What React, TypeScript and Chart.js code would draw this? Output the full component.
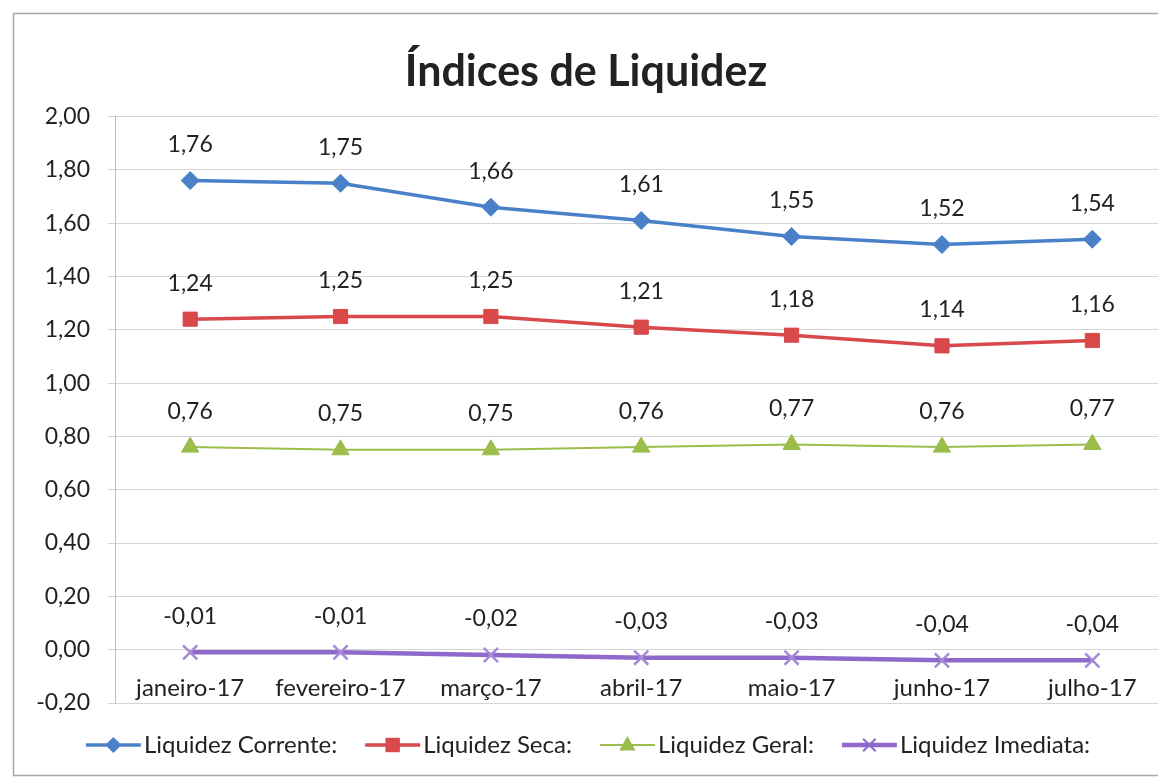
import React, { useEffect, useRef } from "react";
import { Chart, registerables } from "chart.js";

Chart.register(...registerables);

const categories = ["janeiro-17", "fevereiro-17", "março-17", "abril-17", "maio-17", "junho-17", "julho-17"];
const liquidezCorrente = [1.76, 1.75, 1.66, 1.61, 1.55, 1.52, 1.54];
const liquidezSeca = [1.24, 1.25, 1.25, 1.21, 1.18, 1.14, 1.16];
const liquidezGeral = [0.76, 0.75, 0.75, 0.76, 0.77, 0.76, 0.77];
const liquidezImediata = [-0.01, -0.01, -0.02, -0.03, -0.03, -0.04, -0.04];
const seriesNames = ["Liquidez Corrente:", "Liquidez Seca:", "Liquidez Geral:", "Liquidez Imediata:"];
const chartTitle = "Índices de Liquidez";
const yMin = -0.2;
const yMax = 2.0;
const yStep = 0.2;

const FONT = "Lato, 'Open Sans', sans-serif";
const fmt = (v: number) => {
  const r = Math.round(v * 100) / 100;
  const s = (Math.abs(r) < 1e-9 ? 0 : r).toFixed(2);
  return s.split(".").join(",");
};

const colors = ["#4a80c8", "#d9484a", "#9bbd4a", "#8f68cc"];
const styles: any[] = ["rectRot", "rect", "triangle", "crossRot"];
const radii = [9, 10, 10, 10];
const widths = [3.5, 3.5, 2, 4.5];

const borderPlugin = {
  id: "frame",
  beforeDraw(chart: any) {
    const ctx = chart.ctx;
    ctx.save();
    ctx.fillStyle = "#ffffff";
    ctx.fillRect(0, 0, chart.width, chart.height);
    ctx.strokeStyle = "#a8a8a8";
    ctx.lineWidth = 1.5;
    ctx.strokeRect(13.5, 13.5, chart.width, 762);
    ctx.restore();
  },
};

const labelPlugin = {
  id: "valueLabels",
  afterDatasetsDraw(chart: any) {
    const ctx = chart.ctx;
    ctx.save();
    ctx.font = `23px ${FONT}`;
    ctx.fillStyle = "#222";
    ctx.textAlign = "center";
    ctx.textBaseline = "middle";
    chart.data.datasets.forEach((ds: any, i: number) => {
      const meta = chart.getDatasetMeta(i);
      meta.data.forEach((pt: any, j: number) => {
        ctx.fillText(fmt(ds.data[j]), pt.x, pt.y - 36);
      });
    });
    ctx.restore();
  },
};

function drawMarker(ctx: CanvasRenderingContext2D, style: string, x: number, y: number, r: number, color: string) {
  ctx.save();
  ctx.fillStyle = color;
  ctx.strokeStyle = color;
  ctx.lineWidth = 2;
  ctx.beginPath();
  if (style === "rectRot") {
    ctx.moveTo(x, y - r);
    ctx.lineTo(x + r, y);
    ctx.lineTo(x, y + r);
    ctx.lineTo(x - r, y);
    ctx.closePath();
    ctx.fill();
  } else if (style === "rect") {
    ctx.rect(x - r * 0.8, y - r * 0.8, r * 1.6, r * 1.6);
    ctx.fill();
  } else if (style === "triangle") {
    ctx.moveTo(x, y - r);
    ctx.lineTo(x + r * 0.9, y + r * 0.6);
    ctx.lineTo(x - r * 0.9, y + r * 0.6);
    ctx.closePath();
    ctx.fill();
  } else {
    const d = r * 0.7;
    ctx.moveTo(x - d, y - d);
    ctx.lineTo(x + d, y + d);
    ctx.moveTo(x + d, y - d);
    ctx.lineTo(x - d, y + d);
    ctx.stroke();
  }
  ctx.restore();
}

const legendPlugin = {
  id: "customLegend",
  afterDraw(chart: any) {
    const ctx = chart.ctx;
    ctx.save();
    ctx.font = `24px ${FONT}`;
    const lineW = 55;
    const gap = 3;
    const itemGap = 28;
    const textWs = seriesNames.map((n) => ctx.measureText(n).width);
    const total = textWs.reduce((a, b) => a + b, 0) + seriesNames.length * (lineW + gap) + (seriesNames.length - 1) * itemGap;
    let x = 588 - total / 2;
    const y = 745;
    seriesNames.forEach((name, i) => {
      ctx.strokeStyle = colors[i];
      ctx.lineWidth = widths[i];
      ctx.beginPath();
      ctx.moveTo(x, y);
      ctx.lineTo(x + lineW, y);
      ctx.stroke();
      drawMarker(ctx, styles[i], x + lineW / 2, y, radii[i] * 0.9, colors[i]);
      x += lineW + gap;
      ctx.fillStyle = "#222";
      ctx.textAlign = "left";
      ctx.textBaseline = "middle";
      ctx.fillText(name, x, y);
      x += textWs[i] + itemGap;
    });
    ctx.restore();
  },
};

export default function App() {
  const ref = useRef<HTMLCanvasElement | null>(null);
  useEffect(() => {
    if (!ref.current) return;
    const series = [liquidezCorrente, liquidezSeca, liquidezGeral, liquidezImediata];
    const chart = new Chart(ref.current, {
      type: "line",
      data: {
        labels: categories,
        datasets: series.map((d, i) => ({
          label: seriesNames[i],
          data: d,
          borderColor: colors[i],
          backgroundColor: colors[i],
          borderWidth: widths[i],
          pointStyle: styles[i],
          pointRadius: radii[i],
          pointBorderWidth: i === 3 ? 2.5 : 1,
          pointBackgroundColor: colors[i],
          pointBorderColor: i === 3 ? "#a58ad8" : colors[i],
          tension: 0,
          fill: false,
        })),
      },
      options: {
        animation: false,
        responsive: false,
        layout: { padding: { left: 0, right: 8, top: 0, bottom: 80 } },
        plugins: {
          legend: { display: false },
          tooltip: { enabled: false },
          title: {
            display: true,
            text: chartTitle,
            color: "#222",
            font: { family: FONT, size: 43, weight: "bold" },
            padding: { top: 46, bottom: 19 },
          },
        },
        scales: {
          x: {
            type: "category",
            position: { y: 0 } as any,
            offset: true,
            grid: { display: false, drawTicks: false },
            border: { display: false },
            ticks: { color: "#222", font: { family: FONT, size: 24 }, padding: 24, maxRotation: 0, autoSkip: false },
          },
          y: {
            min: yMin,
            max: yMax,
            afterFit: (s: any) => {
              s.width = 115;
            },
            grid: { color: "#d4d4d4", lineWidth: 1, drawTicks: true, tickLength: 7 },
            border: { display: true, color: "#bdbdbd" },
            ticks: {
              stepSize: yStep,
              padding: 18,
              color: "#222",
              font: { family: FONT, size: 23 },
              callback: (v: any) => fmt(Number(v)),
            },
          },
        },
      },
      plugins: [borderPlugin, labelPlugin, legendPlugin],
    });
    return () => chart.destroy();
  }, []);
  return (
    <div style={{ position: "fixed", left: 0, top: 0, width: 1180, height: 783, background: "#fff" }}>
      <canvas ref={ref} width={1180} height={783} style={{ width: 1180, height: 783, display: "block" }} />
    </div>
  );
}
